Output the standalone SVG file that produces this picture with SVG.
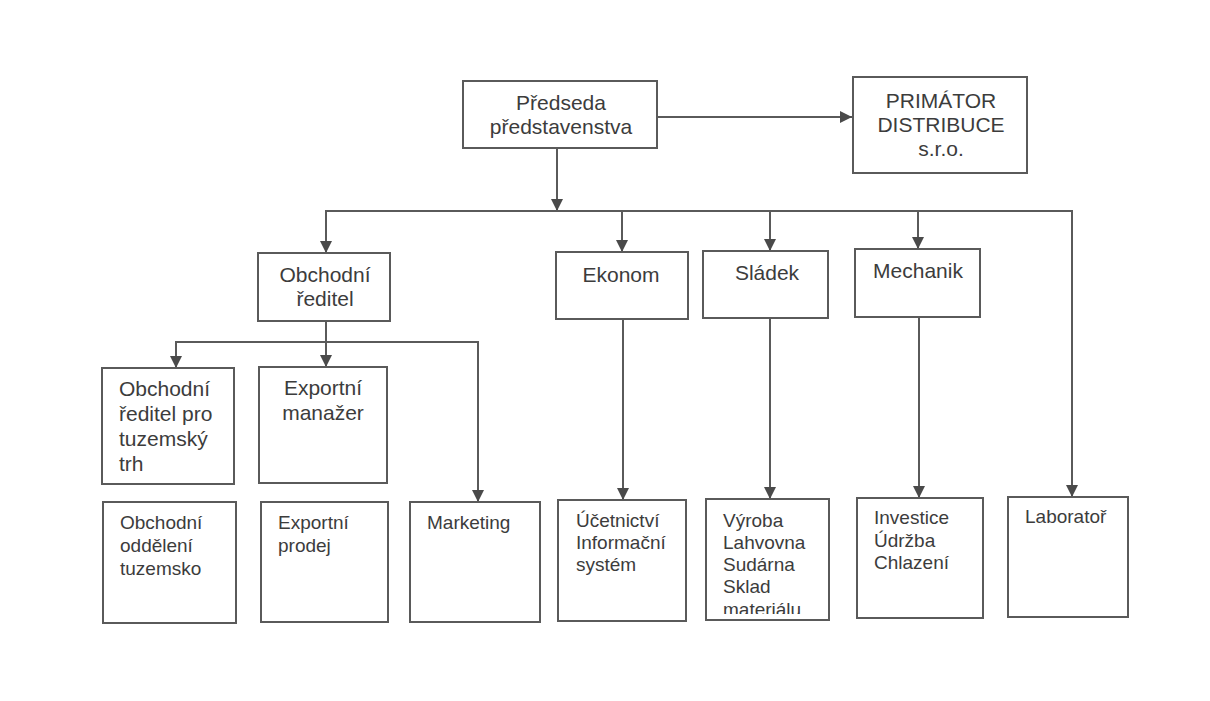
<svg xmlns="http://www.w3.org/2000/svg" width="1210" height="701" viewBox="0 0 1210 701">
  <defs>
    <marker id="arrow" viewBox="0 0 12 12" refX="12" refY="6" markerWidth="12" markerHeight="12" markerUnits="userSpaceOnUse" orient="auto">
      <path d="M0,0 L12,6 L0,12 Z" fill="#4a4a4a"/>
    </marker>
    <clipPath id="clipVyroba">
      <rect x="706" y="499" width="123" height="115"/>
    </clipPath>
    <style>
      .box { fill: #ffffff; stroke: #5a5a5a; stroke-width: 2; }
      .line { fill: none; stroke: #5a5a5a; stroke-width: 2; }
      .t { font-family: "Liberation Sans", Arial, sans-serif; fill: #3c3c3c; }
      .big { font-size: 21px; }
      .mid { font-size: 21px; }
      .small { font-size: 19px; }
      .c { text-anchor: middle; }
    </style>
  </defs>
  <rect width="1210" height="701" fill="#ffffff"/>

  <!-- connectors -->
  <g id="connectors">
    <line class="line" x1="657" y1="117" x2="852" y2="117" marker-end="url(#arrow)"/>
    <line class="line" x1="557" y1="148" x2="557" y2="211" marker-end="url(#arrow)"/>
    <polyline class="line" points="326,253 326,211 1072,211 1072,497" />
    <line class="line" x1="1072" y1="480" x2="1072" y2="497" marker-end="url(#arrow)"/>
    <line class="line" x1="326" y1="230" x2="326" y2="253" marker-end="url(#arrow)"/>
    <line class="line" x1="622" y1="211" x2="622" y2="252" marker-end="url(#arrow)"/>
    <line class="line" x1="770" y1="211" x2="770" y2="251" marker-end="url(#arrow)"/>
    <line class="line" x1="918" y1="211" x2="918" y2="249" marker-end="url(#arrow)"/>

    <line class="line" x1="623" y1="319" x2="623" y2="500" marker-end="url(#arrow)"/>
    <line class="line" x1="770" y1="318" x2="770" y2="499" marker-end="url(#arrow)"/>
    <line class="line" x1="919" y1="317" x2="919" y2="498" marker-end="url(#arrow)"/>

    <line class="line" x1="326" y1="321" x2="326" y2="367" marker-end="url(#arrow)"/>
    <polyline class="line" points="176,368 176,342 478,342 478,502"/>
    <line class="line" x1="176" y1="350" x2="176" y2="368" marker-end="url(#arrow)"/>
    <line class="line" x1="478" y1="480" x2="478" y2="502" marker-end="url(#arrow)"/>
  </g>

  <!-- top level -->
  <g id="predseda">
    <rect class="box" x="463" y="81" width="194" height="67"/>
    <text class="t big c" x="561" y="110">Předseda</text>
    <text class="t big c" x="561" y="134">představenstva</text>
  </g>
  <g id="primator">
    <rect class="box" x="853" y="77" width="174" height="96"/>
    <text class="t big c" x="941" y="108">PRIMÁTOR</text>
    <text class="t big c" x="941" y="132">DISTRIBUCE</text>
    <text class="t big c" x="941" y="156">s.r.o.</text>
  </g>

  <!-- second level -->
  <g id="obchodni-reditel">
    <rect class="box" x="258" y="253" width="132" height="68"/>
    <text class="t big c" x="325" y="282">Obchodní</text>
    <text class="t big c" x="325" y="306">ředitel</text>
  </g>
  <g id="ekonom">
    <rect class="box" x="556" y="252" width="132" height="67"/>
    <text class="t big c" x="621" y="282">Ekonom</text>
  </g>
  <g id="sladek">
    <rect class="box" x="703" y="251" width="125" height="67"/>
    <text class="t big c" x="767" y="280">Sládek</text>
  </g>
  <g id="mechanik">
    <rect class="box" x="855" y="249" width="125" height="68"/>
    <text class="t big c" x="918" y="278">Mechanik</text>
  </g>

  <!-- third level under Obchodní ředitel -->
  <g id="reditel-tuzemsko">
    <rect class="box" x="102" y="368" width="132" height="116"/>
    <text class="t mid" x="119" y="396">Obchodní</text>
    <text class="t mid" x="119" y="421">ředitel pro</text>
    <text class="t mid" x="119" y="446">tuzemský</text>
    <text class="t mid" x="119" y="471">trh</text>
  </g>
  <g id="exportni-manazer">
    <rect class="box" x="259" y="367" width="128" height="116"/>
    <text class="t mid c" x="323" y="395">Exportní</text>
    <text class="t mid c" x="323" y="420">manažer</text>
  </g>

  <!-- bottom row -->
  <g id="oddeleni-tuzemsko">
    <rect class="box" x="103" y="502" width="133" height="121"/>
    <text class="t small" x="120" y="529">Obchodní</text>
    <text class="t small" x="120" y="552">oddělení</text>
    <text class="t small" x="120" y="575">tuzemsko</text>
  </g>
  <g id="exportni-prodej">
    <rect class="box" x="261" y="502" width="127" height="120"/>
    <text class="t small" x="278" y="529">Exportní</text>
    <text class="t small" x="278" y="552">prodej</text>
  </g>
  <g id="marketing">
    <rect class="box" x="410" y="502" width="130" height="120"/>
    <text class="t small" x="427" y="529">Marketing</text>
  </g>
  <g id="ucetnictvi">
    <rect class="box" x="558" y="500" width="128" height="121"/>
    <text class="t small" x="576" y="527">Účetnictví</text>
    <text class="t small" x="576" y="549">Informační</text>
    <text class="t small" x="576" y="571">systém</text>
  </g>
  <g id="vyroba">
    <rect class="box" x="706" y="499" width="123" height="121"/>
    <g clip-path="url(#clipVyroba)">
      <text class="t small" x="723" y="527">Výroba</text>
      <text class="t small" x="723" y="549">Lahvovna</text>
      <text class="t small" x="723" y="571">Sudárna</text>
      <text class="t small" x="723" y="593">Sklad</text>
      <text class="t small" x="723" y="616">materiálu</text>
    </g>
  </g>
  <g id="investice">
    <rect class="box" x="857" y="498" width="126" height="120"/>
    <text class="t small" x="874" y="524">Investice</text>
    <text class="t small" x="874" y="547">Údržba</text>
    <text class="t small" x="874" y="569">Chlazení</text>
  </g>
  <g id="laborator">
    <rect class="box" x="1008" y="497" width="120" height="120"/>
    <text class="t small" x="1025" y="523">Laboratoř</text>
  </g>
</svg>
